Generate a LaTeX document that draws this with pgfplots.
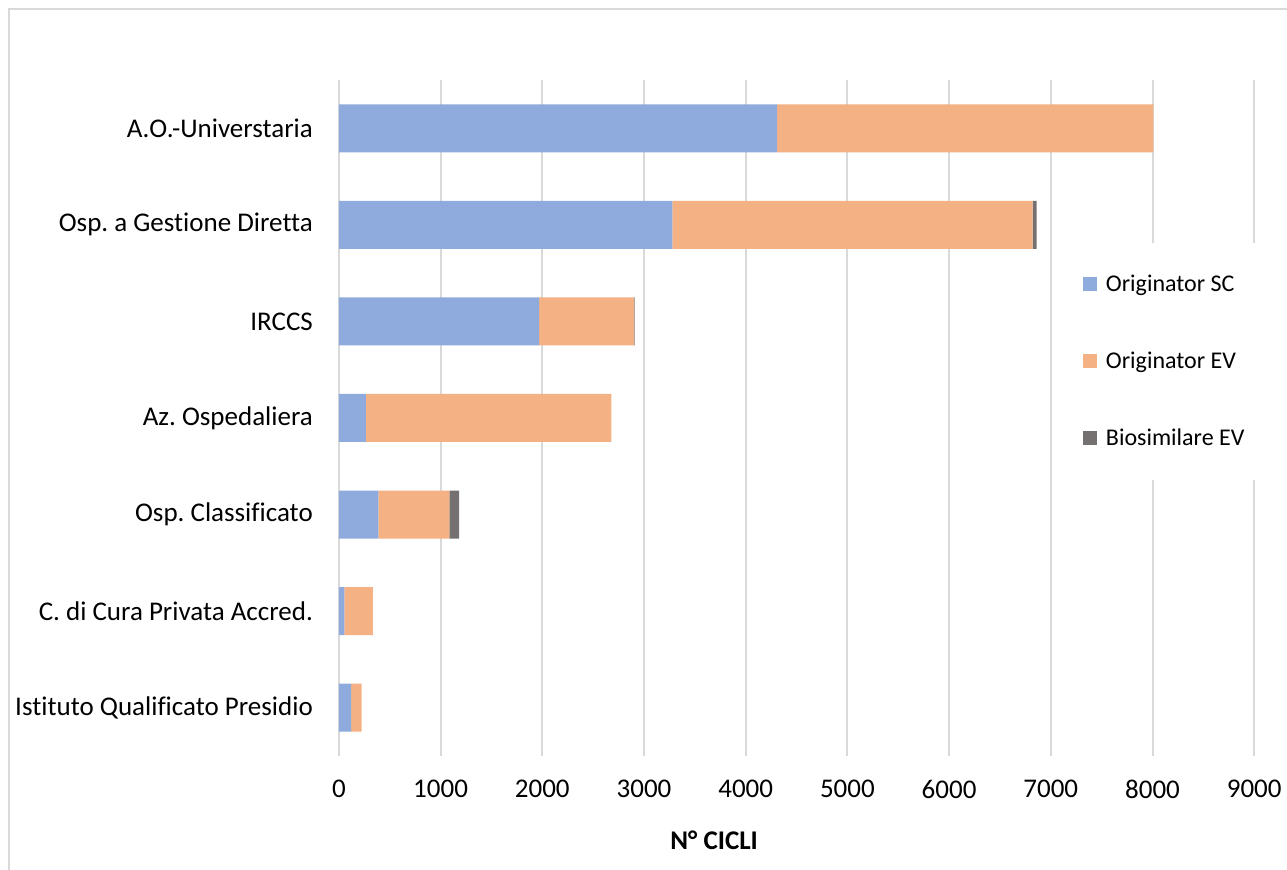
\documentclass[border=0pt]{standalone}
\usepackage{fontspec}
\setmainfont{Carlito}[Ligatures=NoCommon]
\usepackage{pgfplots}
\pgfplotsset{compat=1.18}
\definecolor{cSC}{HTML}{8FAADC}
\definecolor{cEV}{HTML}{F4B183}
\definecolor{cBio}{HTML}{767171}
\definecolor{cGrid}{HTML}{D9D9D9}
\frenchspacing
\begin{document}
\begin{tikzpicture}
\useasboundingbox (0pt,0pt) rectangle (643.5pt,435pt);
\draw[cGrid,line width=1pt] (4.5pt,-5pt) -- (4.5pt,430.25pt) -- (650pt,430.25pt);
\begin{axis}[
  at={(169.45pt,57pt)}, anchor=south west,
  scale only axis, width=457.65pt, height=338pt,
  xbar stacked, bar width=24pt,
  xmin=0, xmax=9000, ymin=-0.5, ymax=6.5,
  xtick={0,1000,...,9000},
  ytick={0,1,2,3,4,5,6},
  yticklabels={Istituto Qualificato Presidio, C. di Cura Privata Accred., Osp. Classificato, Az. Ospedaliera, IRCCS, Osp. a Gestione Diretta, A.O.-Universtaria},
  xmajorgrids, grid style={cGrid,line width=1pt},
  axis line style={draw=none},
  major tick length=0pt,
  tick label style={font=\fontsize{13.5}{16}\selectfont, /pgf/number format/assume math mode=true},
  /pgf/number format/set thousands separator={},
  xticklabel style={yshift=-8.5pt},
  yticklabel style={xshift=-9.5pt},
  xlabel={\textbf{N° CICLI}},
  xlabel style={at={(axis description cs:0.41,-0.125)}, anchor=center, font=\fontsize{13.5}{16}\selectfont},
  legend style={at={(axis description cs:0.802,0.76)}, anchor=north west, draw=none, fill=white,
    font=\fontsize{12}{14.4}\selectfont, inner xsep=5pt, inner ysep=14pt,
    row sep=24.75pt, legend cell align=left,
    nodes={inner xsep=4.3pt}},
  legend image code/.code={\fill[#1,draw=none] (0pt,-3.5pt) rectangle (7pt,3.5pt);},
]
\addplot[fill=cSC,draw=none] coordinates {(119,0) (53,1) (387,2) (266,3) (1970,4) (3278,5) (4308,6)};
\addplot[fill=cEV,draw=none] coordinates {(105,0) (282,1) (699,2) (2413,3) (932,4) (3544,5) (3700,6)};
\addplot[fill=cBio,draw=none] coordinates {(0,0) (0,1) (95,2) (0,3) (6,4) (39,5) (0,6)};
\legend{Originator SC, Originator EV, Biosimilare EV}
\end{axis}
\end{tikzpicture}
\end{document}
